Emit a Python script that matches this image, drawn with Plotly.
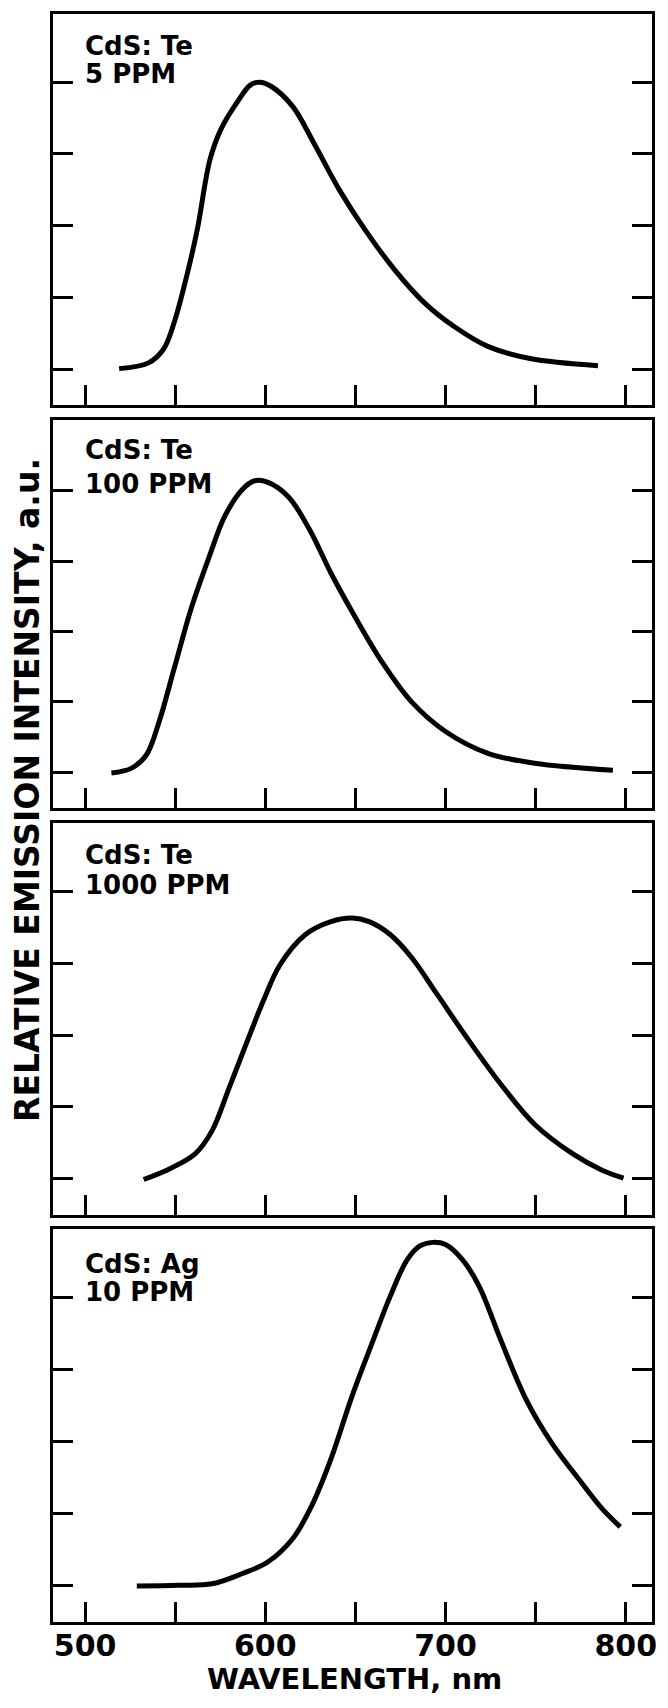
import plotly.graph_objects as go
from plotly.subplots import make_subplots

# wavelength in nm, intensity in units of the y tick spacing (baseline tick = 0)
te5_nm = [518.9, 535.2, 543.5, 549.4, 556.4, 562.3, 569.3, 575.3, 584.6, 591.7, 596.9, 603.4,
          615.3, 627.0, 641.1, 655.2, 671.7, 688.2, 704.6, 723.5, 747.0, 784.6]
te5_int = [0.01, 0.09, 0.28, 0.65, 1.30, 1.95, 2.92, 3.34, 3.73, 3.96, 4.00, 3.94,
           3.66, 3.15, 2.50, 1.95, 1.39, 0.93, 0.60, 0.32, 0.15, 0.05]

te100_nm = [514.6, 525.9, 534.1, 541.1, 549.4, 558.8, 568.3, 577.6, 587.0, 594.1, 601.2,
            612.9, 624.7, 636.4, 648.2, 664.7, 681.2, 700.0, 723.5, 749.4, 792.9]
te100_int = [-0.01, 0.06, 0.25, 0.72, 1.47, 2.32, 3.02, 3.64, 4.01, 4.14, 4.12,
             3.91, 3.44, 2.83, 2.28, 1.57, 1.00, 0.58, 0.27, 0.13, 0.03]

te1000_nm = [532.5, 547.1, 561.2, 570.5, 580.0, 589.3, 598.8, 608.2, 622.3, 636.4, 648.2,
             657.6, 669.3, 681.2, 695.3, 711.7, 730.6, 749.4, 770.5, 786.9, 798.8]
te1000_int = [-0.01, 0.14, 0.35, 0.67, 1.27, 1.87, 2.47, 2.98, 3.40, 3.58, 3.63,
              3.58, 3.40, 3.08, 2.57, 1.97, 1.32, 0.76, 0.35, 0.12, 0.01]

ag10_nm = [528.7, 551.8, 570.5, 587.0, 601.2, 615.3, 625.9, 636.4, 648.2, 660.0, 669.3, 678.8,
           685.8, 692.9, 700.0, 709.4, 718.7, 730.6, 744.7, 758.8, 775.3, 787.0, 797.0]
ag10_int = [0.00, 0.01, 0.03, 0.17, 0.33, 0.66, 1.12, 1.76, 2.64, 3.42, 4.02, 4.53,
            4.72, 4.77, 4.74, 4.53, 4.16, 3.42, 2.59, 1.99, 1.44, 1.07, 0.82]

host = ["CdS: Te", "CdS: Te", "CdS: Te", "CdS: Ag"]
dopant = ["5 PPM", "100 PPM", "1000 PPM", "10 PPM"]

x_ticks = [500, 550, 600, 650, 700, 750, 800]
x_tick_text = ["500", "", "600", "", "700", "", "800"]
y_ticks = [0, 1, 2, 3, 4]

series = [(te5_nm, te5_int), (te100_nm, te100_int), (te1000_nm, te1000_int), (ag10_nm, ag10_int)]

# panel placement (page has an 8px body margin, so the figure is 16px smaller than the window)
domains = [[0.7567, 1.0], [0.5065, 0.7474], [0.2533, 0.4972], [0.0, 0.2446]]
y_tops = [4.95, 5.0, 4.96, 4.96]
label_y = [(0.918, 0.847), (0.922, 0.836), (0.918, 0.841), (0.910, 0.838)]
font_main = "DejaVu Sans"

fig = make_subplots(rows=4, cols=1)

for i, (xs, ys) in enumerate(series):
    fig.add_trace(go.Scatter(x=xs, y=ys, mode="lines", line=dict(color="black", width=5, shape="spline"),
                             showlegend=False), row=i + 1, col=1)

for i in range(4):
    last = i == 3
    fig.update_xaxes(range=[482.2, 814.6], tickvals=x_ticks, ticktext=x_tick_text,
                     ticks="inside", ticklen=20, tickwidth=3, tickcolor="black",
                     showline=True, linecolor="black", linewidth=3, mirror=True,
                     showgrid=False, zeroline=False, showticklabels=last,
                     tickfont=dict(family=font_main, size=30, color="black", weight="bold"),
                     ticklabelstandoff=-5,
                     row=i + 1, col=1)
    fig.update_yaxes(range=[-0.5, y_tops[i]], tickvals=y_ticks, domain=domains[i],
                     ticks="inside", ticklen=20, tickwidth=3, tickcolor="black",
                     showline=True, linecolor="black", linewidth=3, mirror="allticks",
                     showgrid=False, zeroline=False, showticklabels=False,
                     row=i + 1, col=1)

    xr = "x domain" if i == 0 else f"x{i + 1} domain"
    yr = "y domain" if i == 0 else f"y{i + 1} domain"
    for txt, ypos in zip([host[i], dopant[i]], label_y[i]):
        fig.add_annotation(text=txt, xref=xr, yref=yr, x=0.05, y=ypos, xanchor="left", yanchor="middle",
                           showarrow=False, font=dict(family=font_main, size=26, color="black", weight="bold"))

fig.add_annotation(text="WAVELENGTH, nm", xref="paper", yref="paper",
                   x=0.503, y=-0.0352, xanchor="center", yanchor="middle",
                   showarrow=False, font=dict(family=font_main, size=29, color="black", weight="bold"))

fig.add_annotation(text="RELATIVE EMISSION INTENSITY, a.u.", xref="paper", yref="paper",
                   x=-0.0427, y=0.5177, xanchor="center", yanchor="middle", textangle=-90,
                   showarrow=False, font=dict(family=font_main, size=33, color="black", weight="bold"))

fig.update_layout(width=652, height=1692, margin=dict(l=45, r=3, t=3, b=78),
                  plot_bgcolor="white", paper_bgcolor="white")

fig.write_html("out.html")
